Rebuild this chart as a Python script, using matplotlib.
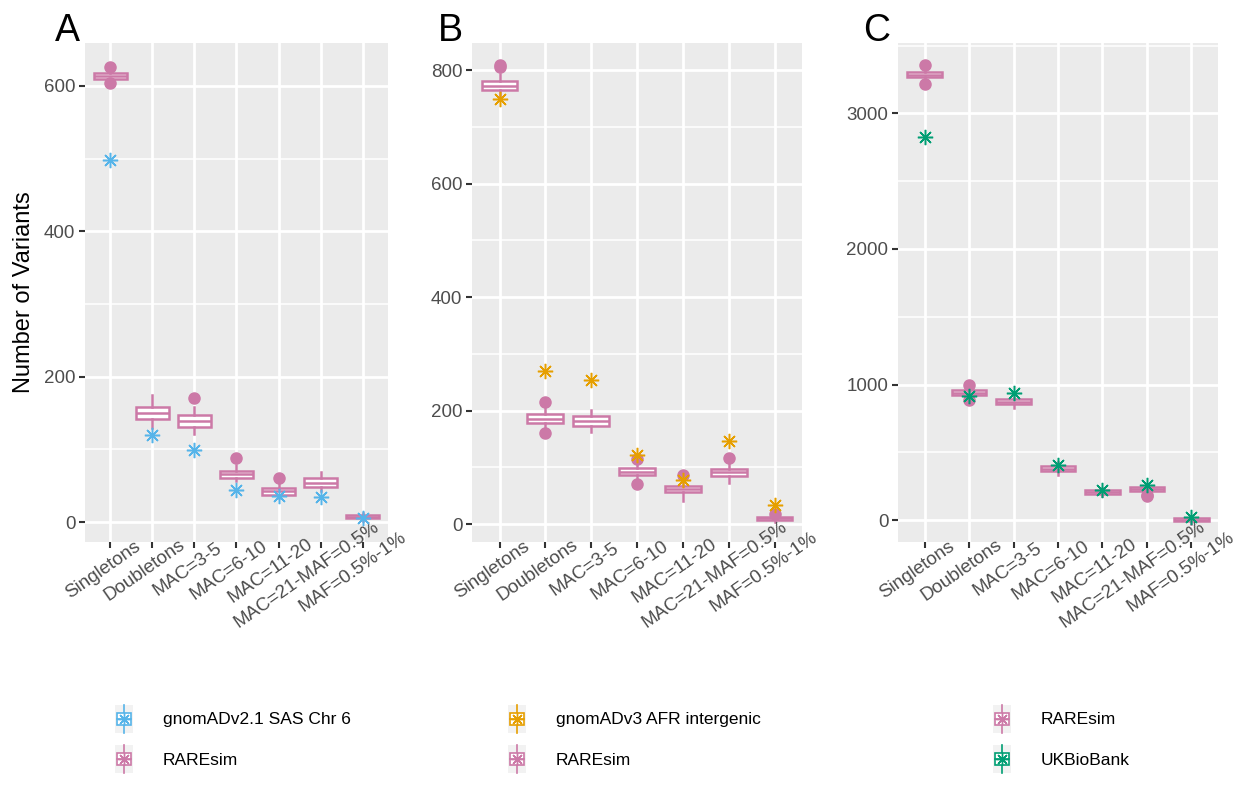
import matplotlib.pyplot as plt
import matplotlib.transforms as mtransforms
import numpy as np
from matplotlib.legend_handler import HandlerBase
from matplotlib.patches import Rectangle
from matplotlib.lines import Line2D

plt.rcParams['font.family'] = ['Liberation Sans', 'DejaVu Sans']

PINK = "#CC79A7"
BLUE = "#56B4E9"
ORANGE = "#E69F00"
GREEN = "#009E73"

categories = ["Singletons", "Doubletons", "MAC=3-5", "MAC=6-10", "MAC=11-20",
              "MAC=21-MAF=0.5%", "MAF=0.5%-1%"]

# panel A: RAREsim boxes vs gnomADv2.1 SAS Chr 6
a_q1 = [610, 142, 131, 61, 37, 48, 5]
a_med = [614, 150, 139, 66, 42, 54, 7]
a_q3 = [618, 158, 147, 70, 47, 60, 9]
a_lo = [608, 130, 121, 56, 33, 42, 2]
a_hi = [620, 175, 158, 78, 52, 69, 12]
a_out = [[626, 604], [], [170], [88], [61], [], []]
a_obs = [498, 120, 99, 44, 36, 35, 6]

# panel B: RAREsim boxes vs gnomADv3 AFR intergenic
b_q1 = [765, 178, 172, 86, 56, 84, 7]
b_med = [771, 185, 182, 92, 61, 91, 10]
b_q3 = [781, 193, 191, 98, 67, 97, 13]
b_lo = [752, 166, 163, 78, 40, 73, 3]
b_hi = [793, 205, 201, 108, 76, 106, 16]
b_out = [[809, 805], [215, 160], [], [115, 70], [87], [116], [18]]
b_obs = [749, 270, 253, 122, 78, 147, 33]

# panel C: RAREsim boxes vs UKBioBank
c_q1 = [3269, 924, 853, 359, 193, 211, -8]
c_med = [3285, 940, 871, 378, 207, 229, 3]
c_q3 = [3303, 958, 893, 396, 222, 246, 14]
c_lo = [3240, 905, 829, 330, 175, 190, -30]
c_hi = [3330, 975, 910, 430, 240, 265, 30]
c_out = [[3361, 3219], [993, 887], [], [], [], [187, 174], []]
c_obs = [2828, 914, 940, 407, 219, 261, 24]


class BoxKey(HandlerBase):
    def create_artists(self, legend, orig_handle, xdescent, ydescent,
                       width, height, fontsize, trans):
        col = orig_handle.get_color()
        x0, y0 = -xdescent, -ydescent
        cx, cy = x0 + width / 2, y0 + height / 2
        bg = Rectangle((x0, y0), width, height, facecolor="#F2F2F2",
                       edgecolor="none", transform=trans)
        wh = Line2D([cx, cx], [y0, y0 + height], color=col, lw=1.2, transform=trans)
        bw, bh = width * 0.8, height * 0.45
        box = Rectangle((cx - bw / 2, cy - bh / 2), bw, bh, facecolor="white",
                        edgecolor=col, lw=1.2, transform=trans)
        md = Line2D([cx - bw / 2, cx + bw / 2], [cy, cy], color=col, lw=1.2,
                    transform=trans)
        st = Line2D([cx], [cy], marker=(8, 2, 0), color=col, markersize=9,
                    mew=1.0, transform=trans)
        return [bg, wh, box, md, st]


def panel(ax, q1, med, q3, lo, hi, out, obs, obs_color, ylim, major, minor, labels):
    stats = []
    for i in range(len(categories)):
        stats.append(dict(med=med[i], q1=q1[i], q3=q3[i], whislo=lo[i],
                          whishi=hi[i], fliers=out[i]))
    pos = list(range(len(categories)))
    ax.bxp(stats, positions=pos, widths=0.78, patch_artist=True, showcaps=False,
           boxprops=dict(facecolor="white", edgecolor=PINK, linewidth=1.8),
           medianprops=dict(color=PINK, linewidth=1.8),
           whiskerprops=dict(color=PINK, linewidth=1.8),
           flierprops=dict(marker="o", markerfacecolor=PINK, markeredgecolor=PINK,
                           markersize=8))
    ax.plot(pos, obs, linestyle="none", marker=(8, 2, 0), color=obs_color,
            markersize=11, mew=1.1, zorder=5)
    ax.set_xlim(-0.6, len(categories) - 0.4)
    ax.set_ylim(*ylim)
    ax.set_yticks(major)
    ax.set_yticks(minor, minor=True)
    ax.set_xticks(pos)
    ax.tick_params(axis="x", labelbottom=False)
    ax.set_facecolor("#EBEBEB")
    for s in ax.spines.values():
        s.set_visible(False)
    ax.set_axisbelow(True)
    ax.grid(True, which="major", color="white", lw=2)
    ax.grid(True, which="minor", axis="y", color="white", lw=1.1)
    ax.tick_params(which="major", colors="#333333", labelcolor="#4D4D4D",
                   length=4, width=1.5, labelsize=13.5, pad=3)
    ax.tick_params(which="minor", length=0)
    handles = [Line2D([], [], color=c) for c, _ in labels]
    return handles, [t for _, t in labels]


fig = plt.figure(figsize=(12.38, 7.86), dpi=100)
H, W = 786, 1238
top, bot = 1 - 43 / H, 1 - 542 / H

axA = fig.add_axes([85 / W, bot, (388 - 85) / W, top - bot])
axB = fig.add_axes([472 / W, bot, (802 - 472) / W, top - bot])
axC = fig.add_axes([898 / W, bot, (1218 - 898) / W, top - bot])

hA, lA = panel(axA, a_q1, a_med, a_q3, a_lo, a_hi, a_out, a_obs, BLUE, (-27.5, 659),
               [0, 200, 400, 600], [100, 300, 500],
               [(BLUE, "gnomADv2.1 SAS Chr 6"), (PINK, "RAREsim")])
hB, lB = panel(axB, b_q1, b_med, b_q3, b_lo, b_hi, b_out, b_obs, ORANGE, (-31.7, 847.6),
               [0, 200, 400, 600, 800], [100, 300, 500, 700],
               [(ORANGE, "gnomADv3 AFR intergenic"), (PINK, "RAREsim")])
hC, lC = panel(axC, c_q1, c_med, c_q3, c_lo, c_hi, c_out, c_obs, GREEN, (-162, 3520),
               [0, 1000, 2000, 3000], [500, 1500, 2500, 3500],
               [(PINK, "RAREsim"), (GREEN, "UKBioBank")])

# rotated category labels, placed like ggplot (angle 35, anchor ~60% along text)
renderer = fig.canvas.get_renderer()
ang = np.deg2rad(35)
for ax in (axA, axB, axC):
    base = mtransforms.blended_transform_factory(ax.transData, fig.transFigure)
    for p, lab in enumerate(categories):
        t = ax.text(p, 1 - 565 / H, lab, transform=base, fontsize=13.5,
                    color="#4D4D4D", ha="center", va="center", clip_on=False)
        L = t.get_window_extent(renderer).width
        shift = mtransforms.ScaledTranslation(-0.1 * L * np.cos(ang) / fig.dpi,
                                              -0.1 * L * np.sin(ang) / fig.dpi,
                                              fig.dpi_scale_trans)
        t.set_transform(base + shift)
        t.set_rotation(35)
        t.set_rotation_mode("anchor")

fig.text(24 / W, 1 - 292.5 / H, "Number of Variants", rotation=90, fontsize=17,
         ha="center", va="center")

for ax, h, l, x in [(axA, hA, lA, 115), (axB, hB, lB, 508), (axC, hC, lC, 993)]:
    ax.legend(h, l, handler_map={Line2D: BoxKey()}, loc="upper left",
              bbox_to_anchor=(x / W, 1 - 705 / H), bbox_transform=fig.transFigure,
              frameon=False, borderpad=0, borderaxespad=0, fontsize=12.5,
              handlelength=1.05, handleheight=2.1, handletextpad=1.7,
              labelspacing=0.7)

for lab, x in [("A", 55), ("B", 438), ("C", 863)]:
    fig.text(x / W, 1 - 41 / H, lab, fontsize=27, ha="left", va="baseline")

fig.savefig("out.png", dpi=100)
